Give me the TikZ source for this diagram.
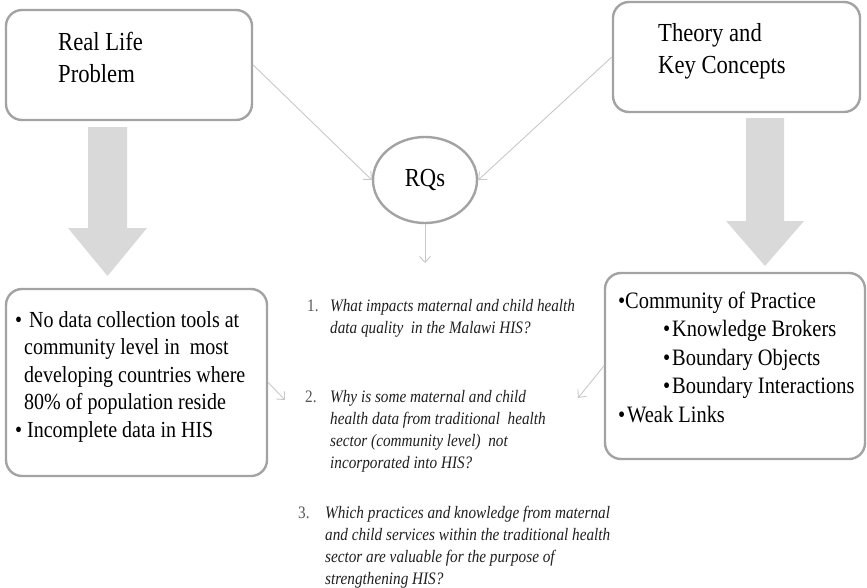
\documentclass[tikz,border=0pt]{standalone}
\usepackage{fontspec}
\setmainfont[FakeStretch=0.87]{Liberation Serif}
\usetikzlibrary{arrows.meta,shapes.geometric}

\definecolor{boxline}{HTML}{A3A3A3}
\definecolor{thinline}{HTML}{C8C8C8}
\definecolor{bigarrow}{HTML}{D9D9D9}
\definecolor{numgrey}{HTML}{555555}

% stack of lines whose baseline is the first line's baseline
\newcommand\linestack[2]{\vtop{\baselineskip=#1\lineskiplimit=-100pt\relax #2}}

\tikzset{
  roundbox/.style={draw=boxline, line width=2.4pt, rounded corners=16pt,
    fill=white, inner sep=0pt},
  rqoval/.style={ellipse, draw=boxline, line width=2.4pt, fill=white,
    inner sep=0pt, minimum width=104pt, minimum height=86pt,
    font=\fontsize{26}{32}\selectfont},
  thinarrow/.style={draw=thinline, line width=0.9pt,
    -{Straight Barb[length=6pt,width=11pt]}},
  bigarrowshape/.style={fill=bigarrow, draw=none},
  txt/.style={anchor=base west, inner sep=0pt, text=black},
  headtxt/.style={txt, font=\fontsize{26}{32}\selectfont},
  leftlist/.style={txt, font=\fontsize{23}{27.5}\selectfont},
  rightlist/.style={txt, font=\fontsize{23.5}{28.5}\selectfont},
  rqtxt/.style={txt, text=black!88, font=\itshape\fontsize{17.5}{22}\selectfont},
}

\begin{document}
\begin{tikzpicture}[x=1pt, y=-1pt]
\useasboundingbox (0,0) rectangle (867,587);

% broad grey arrows from the top boxes to the lists below
\fill[bigarrowshape] (88,127) -- (127,127) -- (127,228) -- (147,228)
  -- (107.5,276) -- (68,228) -- (88,228) -- cycle;
\fill[bigarrowshape] (746,118) -- (784,118) -- (784,221) -- (804,221)
  -- (765,266) -- (726,221) -- (746,221) -- cycle;

% boxes
\node[roundbox, minimum width=246pt, minimum height=110pt] (realbox) at (129,65) {};
\node[roundbox, minimum width=247pt, minimum height=110pt] (theorybox) at (736.5,57) {};
\node[roundbox, minimum width=261pt, minimum height=187pt] (probbox) at (136.5,382.5) {};
\node[roundbox, minimum width=260pt, minimum height=186pt] (conceptbox) at (735,366) {};
\node[rqoval] (rqs) at (425,180) {RQs};

% box texts
\node[headtxt] (realtxt) at (58,50)
  {\linestack{32pt}{\hbox{Real Life}\hbox{Problem}}};
\node[headtxt] (theorytxt) at (658,41)
  {\linestack{32pt}{\hbox{Theory and}\hbox{Key Concepts}}};

\node[leftlist] (probtxt) at (15,327)
  {\linestack{27.5pt}{%
    \hbox{\makebox[14pt][l]{•}No data collection tools at}
    \hbox{\hspace{9pt}community level in\ \ most}
    \hbox{\hspace{9pt}developing countries where}
    \hbox{\hspace{9pt}80\% of population reside}
    \hbox{\makebox[12pt][l]{•}Incomplete\ data in HIS}}};

\node[rightlist] (concepttxt) at (618,308)
  {\linestack{28.5pt}{%
    \hbox{\makebox[7pt][l]{•}Community of Practice}
    \hbox{\hspace{45pt}\makebox[9pt][l]{•}Knowledge Brokers}
    \hbox{\hspace{45pt}\makebox[9pt][l]{•}Boundary Objects}
    \hbox{\hspace{45pt}\makebox[9pt][l]{•}Boundary Interactions}
    \hbox{\makebox[9pt][l]{•}Weak Links}}};

% research questions
\node[rqtxt] (rq1) at (307,311)
  {\linestack{22pt}{%
    \hbox{\makebox[23pt][l]{\upshape\color{numgrey}1.}What impacts maternal and child health}
    \hbox{\hspace{23pt}data quality\ \ in the Malawi HIS?}}};
\node[rqtxt] (rq2) at (305,402)
  {\linestack{22pt}{%
    \hbox{\makebox[25pt][l]{\upshape\color{numgrey}2.}Why is some maternal and child}
    \hbox{\hspace{25pt}health data from traditional\ \ health}
    \hbox{\hspace{25pt}sector (community level)\ \ not}
    \hbox{\hspace{25pt}incorporated into HIS?}}};
\node[rqtxt] (rq3) at (298,518)
  {\linestack{22pt}{%
    \hbox{\makebox[27pt][l]{\upshape\color{numgrey}3.}Which practices\ and knowledge from\ maternal}
    \hbox{\hspace{27pt}and child services\ within the traditional\ health}
    \hbox{\hspace{27pt}sector are valuable for the purpose of}
    \hbox{\hspace{27pt}strengthening HIS?}}};

% free ends of the thin connectors
\coordinate (rqend) at (425,263);
\coordinate (probend) at (285,400);
\coordinate (conceptend) at (578,398);

% thin connectors
\draw[thinarrow] (realbox.east) -- (rqs.west);
\draw[thinarrow] (theorybox.west) -- (rqs.east);
\draw[thinarrow] (rqs.south) -- (rqend);
\draw[thinarrow] (probbox.east) -- (probend);
\draw[thinarrow] (conceptbox.west) -- (conceptend);
\end{tikzpicture}
\end{document}
